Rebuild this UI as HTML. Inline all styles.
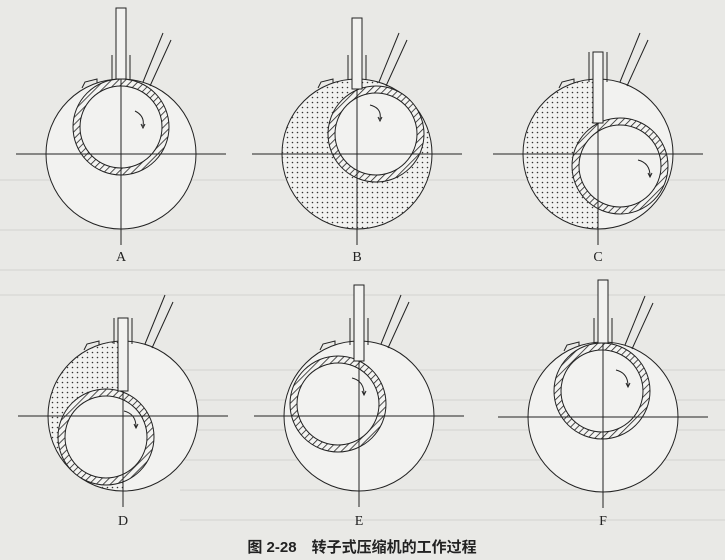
<!DOCTYPE html>
<html><head><meta charset="utf-8"><style>
html,body{margin:0;padding:0;background:#e9e9e6;}
svg{display:block}
</style></head><body>
<svg width="725" height="560" viewBox="0 0 725 560" xmlns="http://www.w3.org/2000/svg">
<defs>
<pattern id="dots" width="5" height="5" patternUnits="userSpaceOnUse"><circle cx="2.5" cy="2.5" r="0.8" fill="#333"/></pattern>
<pattern id="hatch" width="5" height="5" patternUnits="userSpaceOnUse" patternTransform="rotate(45)"><rect width="5" height="5" fill="#f4f4f2"/><line x1="0" y1="0" x2="0" y2="5" stroke="#222" stroke-width="1.6"/></pattern>
</defs>
<rect width="725" height="560" fill="#e9e9e6"/>
<g stroke="#d4d4d0" stroke-width="1" fill="none">
<line x1="0" y1="270" x2="725" y2="270"/><line x1="0" y1="295" x2="725" y2="295"/>
<line x1="180" y1="370" x2="725" y2="370"/><line x1="180" y1="400" x2="725" y2="400"/>
<line x1="180" y1="430" x2="725" y2="430"/><line x1="180" y1="460" x2="725" y2="460"/>
<line x1="180" y1="490" x2="725" y2="490"/><line x1="180" y1="520" x2="725" y2="520"/>
<line x1="0" y1="180" x2="725" y2="180"/><line x1="0" y1="230" x2="725" y2="230"/>
</g>
<g font-family="Liberation Serif, serif" font-size="14" fill="#222" text-anchor="middle">
<text x="121" y="261">A</text><text x="357" y="261">B</text><text x="598" y="261">C</text>
<text x="123" y="525">D</text><text x="359" y="525">E</text><text x="603" y="525">F</text>
</g>
<text x="362" y="552" text-anchor="middle" font-family="Liberation Sans, 'Noto Sans CJK SC', sans-serif" font-size="15" font-weight="bold" fill="#222">图 2-28　转子式压缩机的工作过程</text>

<!-- A -->
<g stroke="#222" stroke-width="1" fill="none">
<circle cx="121" cy="154" r="75" fill="#f2f2f0"/>
<circle cx="121" cy="127" r="48" fill="url(#hatch)"/>
<circle cx="121" cy="127" r="41" fill="#f2f2f0"/>
<line x1="121" y1="79" x2="121" y2="245"/>
<line x1="16" y1="154" x2="226" y2="154"/>
<rect x="116" y="8" width="10" height="71" fill="#f2f2f0"/>
<line x1="112" y1="55" x2="112" y2="80"/><line x1="130" y1="55" x2="130" y2="80"/>
<line x1="143" y1="82" x2="163" y2="33"/><line x1="150" y1="86" x2="171" y2="40"/>
<path d="M82 88 l3 -6 l12 -3 l0 4"/>
<path d="M135 111 q10 5 8 15" /><path d="M141 124 l2 4 l2 -4"/>
</g>
<!-- B -->
<g stroke="#222" stroke-width="1" fill="none">
<mask id="mB"><circle cx="357" cy="154" r="75" fill="#fff"/><circle cx="376" cy="134" r="48" fill="#000"/></mask>
<circle cx="357" cy="154" r="75" fill="#f2f2f0"/>
<rect x="270" y="70" width="170" height="170" fill="url(#dots)" stroke="none" mask="url(#mB)"/>
<circle cx="376" cy="134" r="48" fill="url(#hatch)"/>
<circle cx="376" cy="134" r="41" fill="#f2f2f0"/>
<line x1="252" y1="154" x2="462" y2="154"/>
<line x1="357" y1="89" x2="357" y2="245"/>
<rect x="352" y="18" width="10" height="71" fill="#f2f2f0"/>
<line x1="348" y1="55" x2="348" y2="80"/><line x1="366" y1="55" x2="366" y2="80"/>
<line x1="379" y1="82" x2="399" y2="33"/><line x1="386" y1="86" x2="407" y2="40"/>
<path d="M318 88 l3 -6 l12 -3 l0 4"/>
<path d="M370 105 q12 3 10 14"/><path d="M378 117 l2 4 l2 -4"/>
</g>
<!-- C -->
<g stroke="#222" stroke-width="1" fill="none">
<mask id="mC"><circle cx="598" cy="154" r="75" fill="#fff"/><circle cx="620" cy="166" r="48" fill="#000"/><rect x="598" y="0" width="100" height="300" fill="#000"/></mask>
<circle cx="598" cy="154" r="75" fill="#f2f2f0"/>
<rect x="515" y="70" width="170" height="170" fill="url(#dots)" stroke="none" mask="url(#mC)"/>
<circle cx="620" cy="166" r="48" fill="url(#hatch)"/>
<circle cx="620" cy="166" r="41" fill="#f2f2f0"/>
<line x1="493" y1="154" x2="703" y2="154"/>
<line x1="598" y1="123" x2="598" y2="245"/>
<rect x="593" y="52" width="10" height="71" fill="#f2f2f0"/>
<line x1="589" y1="52" x2="589" y2="82"/><line x1="607" y1="52" x2="607" y2="82"/>
<line x1="620" y1="82" x2="640" y2="33"/><line x1="627" y1="86" x2="648" y2="40"/>
<path d="M559 88 l3 -6 l12 -3 l0 4"/>
<path d="M638 160 q12 3 12 16"/><path d="M648 173 l2 4 l2 -4"/>
</g>
<!-- D -->
<g stroke="#222" stroke-width="1" fill="none">
<mask id="mD"><circle cx="123" cy="416" r="75" fill="#fff"/><circle cx="106" cy="437" r="48" fill="#000"/><rect x="123" y="300" width="120" height="220" fill="#000"/></mask>
<circle cx="123" cy="416" r="75" fill="#f2f2f0"/>
<rect x="40" y="330" width="170" height="170" fill="url(#dots)" stroke="none" mask="url(#mD)"/>
<circle cx="106" cy="437" r="48" fill="url(#hatch)"/>
<circle cx="106" cy="437" r="41" fill="#f2f2f0"/>
<line x1="18" y1="416" x2="228" y2="416"/>
<line x1="123" y1="391" x2="123" y2="507"/>
<rect x="118" y="318" width="10" height="73" fill="#f2f2f0"/>
<line x1="114" y1="318" x2="114" y2="344"/><line x1="132" y1="318" x2="132" y2="344"/>
<line x1="145" y1="344" x2="165" y2="295"/><line x1="152" y1="348" x2="173" y2="302"/>
<path d="M84 350 l3 -6 l12 -3 l0 4"/>
<path d="M124 411 q12 3 12 16"/><path d="M134 424 l2 4 l2 -4"/>
</g>
<!-- E -->
<g stroke="#222" stroke-width="1" fill="none">
<circle cx="359" cy="416" r="75" fill="#f2f2f0"/>
<circle cx="338" cy="404" r="48" fill="url(#hatch)"/>
<circle cx="338" cy="404" r="41" fill="#f2f2f0"/>
<line x1="254" y1="416" x2="464" y2="416"/>
<line x1="359" y1="361" x2="359" y2="507"/>
<rect x="354" y="285" width="10" height="76" fill="#f2f2f0"/>
<line x1="350" y1="318" x2="350" y2="345"/><line x1="368" y1="318" x2="368" y2="345"/>
<line x1="381" y1="344" x2="401" y2="295"/><line x1="388" y1="348" x2="409" y2="302"/>
<path d="M320 350 l3 -6 l12 -3 l0 4"/>
<path d="M352 378 q12 3 12 16"/><path d="M362 391 l2 4 l2 -4"/>
</g>
<!-- F -->
<g stroke="#222" stroke-width="1" fill="none">
<circle cx="603" cy="417" r="75" fill="#f2f2f0"/>
<circle cx="602" cy="391" r="48" fill="url(#hatch)"/>
<circle cx="602" cy="391" r="41" fill="#f2f2f0"/>
<line x1="498" y1="417" x2="708" y2="417"/>
<line x1="603" y1="343" x2="603" y2="508"/>
<rect x="598" y="280" width="10" height="63" fill="#f2f2f0"/>
<line x1="594" y1="318" x2="594" y2="344"/><line x1="612" y1="318" x2="612" y2="344"/>
<line x1="625" y1="345" x2="645" y2="296"/><line x1="632" y1="349" x2="653" y2="303"/>
<path d="M564 351 l3 -6 l12 -3 l0 4"/>
<path d="M616 370 q12 3 12 16"/><path d="M626 383 l2 4 l2 -4"/>
</g>
</svg>
</body></html>
